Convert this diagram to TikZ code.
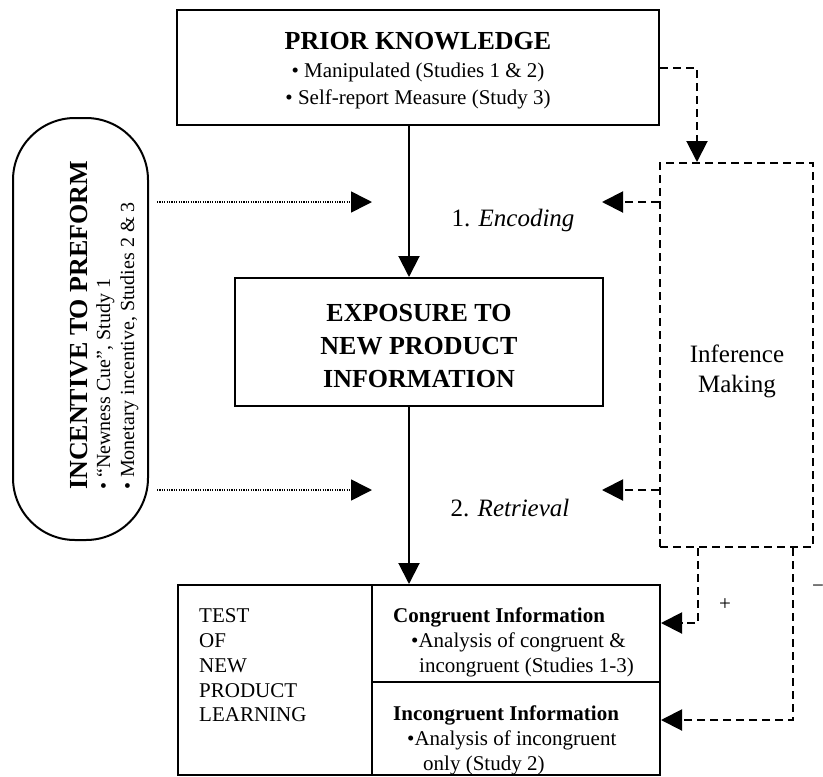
\documentclass[tikz,border=0pt]{standalone}
\usepackage{fontspec}
\setmainfont{Liberation Serif}
\usetikzlibrary{arrows.meta}
\tikzset{
  boxline/.style={draw=black, line width=2pt, rectangle, inner sep=0pt},
  dashline/.style={draw=black, line width=2pt, dash pattern=on 8pt off 5pt},
  dotline/.style={draw=black, line width=1.6pt, dash pattern=on 1.2pt off 1.2pt},
  tip/.style={-{Triangle[length=21pt,width=21pt]}},
  txt/.style={inner sep=0pt, anchor=base},
  big/.style={font=\fontsize{26}{30}\selectfont\bfseries},
  mid/.style={font=\fontsize{21}{25}\selectfont},
  sml/.style={font=\fontsize{20}{24}\selectfont},
}
\begin{document}
\begin{tikzpicture}[x=1pt,y=-1pt]
\useasboundingbox (0,0) rectangle (823,777);
% boxes
\node[boxline, minimum width=482, minimum height=115] (prior) at (418,67.5) {};
\node[boxline, minimum width=368, minimum height=128] (expo) at (419,342) {};
\node[boxline, minimum width=153, minimum height=384, dash pattern=on 8pt off 5pt] (infer) at (736.5,355) {};
\draw[line width=2pt, rounded corners=62pt] (13,118) rectangle (148,540);
\node[boxline, minimum width=482, minimum height=190] (test) at (419,680) {};
\draw[line width=2pt] (372,585) -- (372,775);
\draw[line width=2pt] (372,682) -- (660,682);
% texts
\node[txt, big] (t1) at (418,49) {PRIOR KNOWLEDGE};
\node[txt, mid] (t2) at (418,77) {\textbullet\ Manipulated (Studies 1 \& 2)};
\node[txt, mid] (t3) at (418,104) {\textbullet\ Self-report Measure (Study 3)};
\node[txt, big] (e1) at (419,321) {EXPOSURE TO};
\node[txt, big] (e2) at (419,354) {NEW PRODUCT};
\node[txt, big] (e3) at (419,387) {INFORMATION};
\node[txt, font=\fontsize{25}{29}\selectfont] (i1) at (737,362) {Inference};
\node[txt, font=\fontsize{25}{29}\selectfont] (i2) at (737,392) {Making};
\node[txt, font=\fontsize{25}{29}\selectfont] (enc) at (513,226) {1. \textit{Encoding}};
\node[txt, font=\fontsize{25}{29}\selectfont] (ret) at (510,516) {2. \textit{Retrieval}};
\node[rotate=90, anchor=base west, inner sep=0pt, big] (l1) at (87,490) {INCENTIVE TO PREFORM};
\node[rotate=90, anchor=base west, inner sep=0pt, sml] (l2) at (110,490) {\textbullet\ “Newness Cue”, Study 1};
\node[rotate=90, anchor=base west, inner sep=0pt, sml] (l3) at (134,490) {\textbullet\ Monetary incentive, Studies 2 \& 3};
\node[anchor=base west, inner sep=0pt, mid] (b1) at (199,622) {TEST};
\node[anchor=base west, inner sep=0pt, mid] (b2) at (199,647) {OF};
\node[anchor=base west, inner sep=0pt, mid] (b3) at (199,672) {NEW};
\node[anchor=base west, inner sep=0pt, mid] (b4) at (199,697) {PRODUCT};
\node[anchor=base west, inner sep=0pt, mid] (b5) at (199,721) {LEARNING};
\node[anchor=base west, inner sep=0pt, mid, font=\fontsize{21}{25}\selectfont\bfseries] (c1) at (393,622) {Congruent Information};
\node[anchor=base west, inner sep=0pt, mid] (c2) at (411,647) {\textbullet Analysis of congruent \&};
\node[anchor=base west, inner sep=0pt, mid] (c3) at (419,672) {incongruent (Studies 1-3)};
\node[anchor=base west, inner sep=0pt, mid, font=\fontsize{21}{25}\selectfont\bfseries] (d1) at (393,720) {Incongruent Information};
\node[anchor=base west, inner sep=0pt, mid] (d2) at (407,745) {\textbullet Analysis of incongruent};
\node[anchor=base west, inner sep=0pt, mid] (d3) at (423,770) {only (Study 2)};
\node[txt, mid] (plus) at (725,610) {+};
\node[txt, mid] (minus) at (818,592) {\char"2212};
% coordinates
\coordinate (encTip) at (372,202);
\coordinate (retTip) at (372,490);
\coordinate (encStart) at (157,202);
\coordinate (retStart) at (157,490);
\coordinate (encIn) at (602,202);
\coordinate (retIn) at (602,490);
\coordinate (topR) at (697,68);
\coordinate (plusR) at (698,623);
\coordinate (minusR) at (793,720);
% connectors
\draw[line width=2pt, tip] (prior.south -| 409,0) -- (expo.north -| 409,0);
\draw[line width=2pt, tip] (expo.south -| 409,0) -- (test.north -| 409,0);
\draw[dotline, tip] (encStart) -- (encTip);
\draw[dotline, tip] (retStart) -- (retTip);
\draw[dashline, tip] (prior.east |- topR) -- (topR) -- (infer.north -| topR);
\draw[dashline, tip] (infer.west |- encIn) -- (encIn);
\draw[dashline, tip] (infer.west |- retIn) -- (retIn);
\draw[dashline, tip] (infer.south -| plusR) -- (plusR) -- (test.east |- plusR);
\draw[dashline, tip] (infer.south -| minusR) -- (minusR) -- (test.east |- minusR);
\end{tikzpicture}
\end{document}
